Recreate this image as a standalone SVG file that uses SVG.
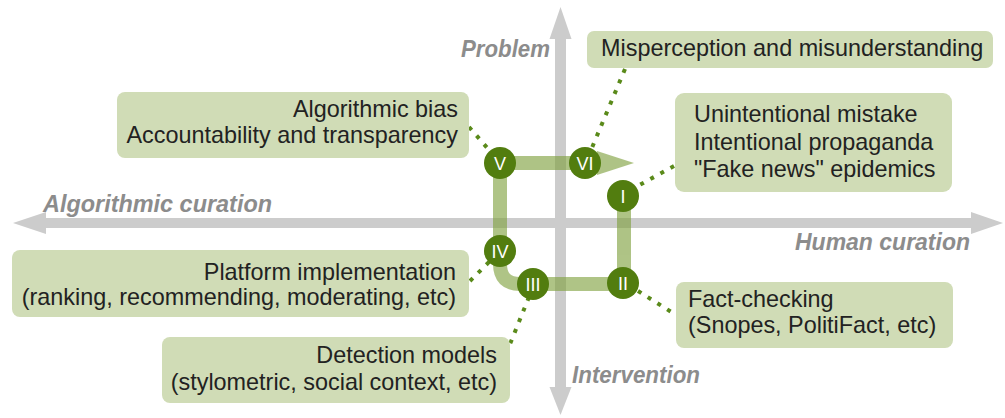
<svg xmlns="http://www.w3.org/2000/svg" width="1005" height="418" viewBox="0 0 1005 418">
  <style>
    .axis { fill: #cccccc; }
    .axis-label { font-family: "Liberation Sans", Arial, sans-serif; font-size: 23px; font-weight: bold; font-style: italic; fill: #8c8c8c; }
    .box rect { fill: #d0dcb6; }
    .box text { font-family: "Liberation Sans", Arial, sans-serif; font-size: 23.4px; fill: #222222; }
    .step circle { fill: #527d0f; }
    .step text { font-family: "Liberation Sans", Arial, sans-serif; font-size: 18px; fill: #ffffff; text-anchor: middle; }
    .link { stroke: #5a8a1a; stroke-width: 4; stroke-dasharray: 4 7.5; fill: none; }
  </style>

  <!-- axes -->
  <g id="axes">
    <rect class="axis" x="44" y="218" width="930" height="10"/>
    <polygon class="axis" points="13,223 46,212 46,234"/>
    <polygon class="axis" points="1003,223 971,212 971,234"/>
    <rect class="axis" x="555" y="37" width="11" height="353"/>
    <polygon class="axis" points="560.5,7 549.5,39 571.5,39"/>
    <polygon class="axis" points="560.5,415 549.5,387 571.5,387"/>
    <text class="axis-label" x="461" y="57" textLength="89" lengthAdjust="spacingAndGlyphs">Problem</text>
    <text class="axis-label" x="572" y="383" textLength="128" lengthAdjust="spacingAndGlyphs">Intervention</text>
    <text class="axis-label" x="43" y="212" textLength="229" lengthAdjust="spacingAndGlyphs">Algorithmic curation</text>
    <text class="axis-label" x="795" y="250" textLength="175" lengthAdjust="spacingAndGlyphs">Human curation</text>
  </g>

  <!-- progression path through the stages -->
  <g id="path" opacity="0.62">
    <path d="M624,195 V284 H520 Q500,284 500,264 V163 H600" fill="none" stroke="#7ea03c" stroke-width="14" stroke-linejoin="round"/>
    <polygon points="597,151 634,163 597,175" fill="#7ea03c"/>
  </g>

  <!-- dotted connectors -->
  <g id="connectors">
    <line class="link" x1="469" y1="127" x2="490" y2="151"/>
    <line class="link" x1="625" y1="69" x2="591" y2="150"/>
    <line class="link" x1="674" y1="166" x2="636" y2="187"/>
    <line class="link" x1="470" y1="281" x2="492" y2="259"/>
    <line class="link" x1="529" y1="297" x2="508" y2="349"/>
    <line class="link" x1="638" y1="291" x2="676" y2="315"/>
  </g>

  <!-- text boxes -->
  <g id="box-misperception" class="box">
    <rect x="587" y="31" width="406" height="37" rx="7"/>
    <text x="601" y="56">Misperception and misunderstanding</text>
  </g>
  <g id="box-bias" class="box">
    <rect x="117" y="92" width="352" height="66" rx="8"/>
    <text x="458" y="117" text-anchor="end">Algorithmic bias</text>
    <text x="458" y="143" text-anchor="end">Accountability and transparency</text>
  </g>
  <g id="box-mistake" class="box">
    <rect x="675" y="93" width="277" height="99" rx="9"/>
    <text x="694" y="122">Unintentional mistake</text>
    <text x="694" y="150">Intentional propaganda</text>
    <text x="694" y="177">"Fake news" epidemics</text>
  </g>
  <g id="box-platform" class="box">
    <rect x="12" y="250" width="457" height="67" rx="8"/>
    <text x="456" y="280" text-anchor="end">Platform implementation</text>
    <text x="456" y="305" text-anchor="end">(ranking, recommending, moderating, etc)</text>
  </g>
  <g id="box-factcheck" class="box">
    <rect x="676" y="282" width="277" height="66" rx="8"/>
    <text x="688" y="307">Fact-checking</text>
    <text x="688" y="333">(Snopes, PolitiFact, etc)</text>
  </g>
  <g id="box-detection" class="box">
    <rect x="162" y="337" width="348" height="66" rx="8"/>
    <text x="497" y="363" text-anchor="end">Detection models</text>
    <text x="497" y="390" text-anchor="end">(stylometric, social context, etc)</text>
  </g>

  <!-- stage markers -->
  <g id="stage-I" class="step"><circle cx="623" cy="196" r="16"/><text x="623" y="203">I</text></g>
  <g id="stage-II" class="step"><circle cx="623" cy="283" r="16"/><text x="623" y="290">II</text></g>
  <g id="stage-III" class="step"><circle cx="533" cy="284" r="16"/><text x="533" y="291">III</text></g>
  <g id="stage-IV" class="step"><circle cx="500" cy="251" r="16"/><text x="500" y="258">IV</text></g>
  <g id="stage-V" class="step"><circle cx="500" cy="163" r="16"/><text x="500" y="170">V</text></g>
  <g id="stage-VI" class="step"><circle cx="585" cy="163" r="16"/><text x="585" y="170">VI</text></g>
</svg>
